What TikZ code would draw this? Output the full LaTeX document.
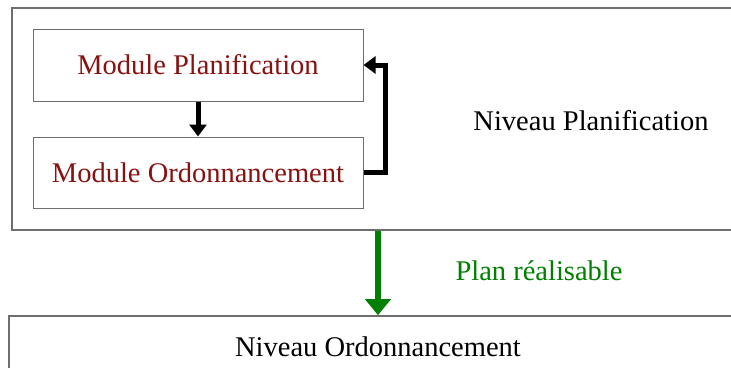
\documentclass[tikz,border=0pt]{standalone}
\usepackage{fontspec}
\setmainfont{Liberation Serif}
\usetikzlibrary{arrows.meta}
\definecolor{modred}{RGB}{135,18,18}
\definecolor{boxgray}{RGB}{110,110,110}
\definecolor{planGreen}{RGB}{0,128,0}
\tikzset{
  txt/.style={font=\fontsize{28.5}{34}\selectfont, inner sep=0pt},
  level/.style={draw=boxgray, line width=1.6pt, inner sep=0pt, fill=white},
  module/.style={draw=boxgray, line width=1pt, inner sep=0pt, fill=white, text=modred, font=\fontsize{28.5}{34}\selectfont},
  blackarrow/.style={line width=5pt, -{Triangle[width=17pt,length=12pt]}},
  greenarrow/.style={draw=planGreen, line width=6.5pt, -{Triangle[width=25pt,length=16pt]}, color=planGreen}
}
\begin{document}
\begin{tikzpicture}[x=1pt,y=-1pt]
\clip (0,0) rectangle (731,367);
\fill[white] (0,0) rectangle (731,367);
\node[level, minimum width=748pt, minimum height=222pt] (outer) at (386,119) {};
\node[level, minimum width=760pt, minimum height=100pt] (bottom) at (389,366) {};
\node[module, minimum width=330pt, minimum height=72pt] (MP) at (198,65) {Module Planification};
\node[module, minimum width=330pt, minimum height=71pt] (MO) at (198,172.5) {Module Ordonnancement};
\node[txt] (np) at (591,121) {Niveau Planification};
\node[txt, text=planGreen] (pr) at (539,271) {Plan réalisable};
\node[txt] (no) at (378,347) {Niveau Ordonnancement};
\draw[blackarrow] (MP.south) -- (MO.north);
\draw[blackarrow] (MO.east) -- ++(22,0) |- (MP.east);
\coordinate (g) at (378,0);
\draw[greenarrow] (outer.south -| g) -- (bottom.north -| g);
\end{tikzpicture}
\end{document}
